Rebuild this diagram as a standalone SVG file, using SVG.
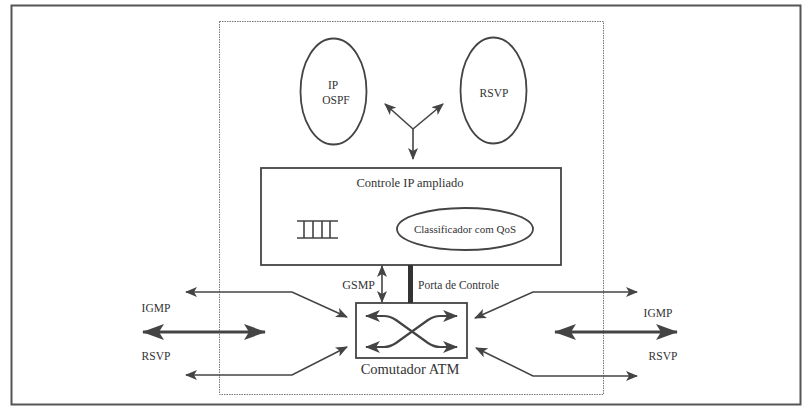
<svg xmlns="http://www.w3.org/2000/svg" width="804" height="408" viewBox="0 0 804 408">
<defs>
<style>
.t{font-family:"Liberation Serif","Times New Roman",serif;fill:#333;}
.ln{fill:none;stroke:#444;stroke-width:1.6;}
.sw{fill:none;stroke:#444;stroke-width:2.2;}
.thick{fill:none;stroke:#444;stroke-width:3.2;}
.box{fill:#fff;stroke:#444;stroke-width:1.8;}
</style>
<marker id="ah" markerUnits="userSpaceOnUse" markerWidth="12" markerHeight="10" refX="11" refY="5" orient="auto-start-reverse" viewBox="0 0 12 10">
<path d="M0,0 L12,5 L0,10 L3,5 Z" fill="#444"/>
</marker>
<marker id="ahm" markerUnits="userSpaceOnUse" markerWidth="15" markerHeight="12" refX="14" refY="6" orient="auto-start-reverse" viewBox="0 0 15 12">
<path d="M0,0 L15,6 L0,12 L4,6 Z" fill="#444"/>
</marker>
<marker id="ahb" markerUnits="userSpaceOnUse" markerWidth="22" markerHeight="16" refX="21" refY="8" orient="auto-start-reverse" viewBox="0 0 22 16">
<path d="M0,0 L22,8 L0,16 L5,8 Z" fill="#444"/>
</marker>
</defs>
<rect x="0" y="0" width="804" height="408" fill="#fff"/>
<rect id="frame" x="11.5" y="5.5" width="789" height="399" fill="none" stroke="#555" stroke-width="2"/>
<rect id="router" x="219.5" y="21.5" width="384" height="373" fill="none" stroke="#777" stroke-width="1" stroke-dasharray="1.5,1"/>

<g id="ip-ospf">
<ellipse cx="333.5" cy="91.5" rx="33" ry="53" class="box"/>
<text class="t" x="333" y="89" font-size="11.5" text-anchor="middle">IP</text>
<text class="t" x="336" y="104" font-size="11.5" text-anchor="middle">OSPF</text>
</g>
<g id="rsvp">
<ellipse cx="493.5" cy="90.5" rx="33" ry="53" class="box"/>
<text class="t" x="494" y="97" font-size="11.5" text-anchor="middle">RSVP</text>
</g>
<g id="controle">
<rect x="261" y="168" width="300" height="97" class="box"/>
<text class="t" x="410" y="187" font-size="12.5" text-anchor="middle">Controle IP ampliado</text>
<path d="M297,221 H338 M297,238 H338 M304,221 V238 M313,221 V238 M322,221 V238 M330,221 V238" stroke="#444" stroke-width="1.6" fill="none"/>
<ellipse cx="465" cy="229" rx="68" ry="21" class="box"/>
<text class="t" x="465" y="233" font-size="11" text-anchor="middle">Classificador com QoS</text>
</g>
<g id="switch">
<rect x="356" y="303" width="111" height="55" class="box"/>
<path class="sw" d="M366,316 H384 Q390,316 396,320 L428,343 Q434,347 440,347 H457" marker-start="url(#ahm)" marker-end="url(#ahm)"/>
<path class="sw" d="M366,347 H384 Q390,347 396,343 L428,320 Q434,316 440,316 H457" marker-start="url(#ahm)" marker-end="url(#ahm)"/>
<text class="t" x="410" y="374" font-size="14.5" text-anchor="middle">Comutador ATM</text>
</g>

<g id="connectors">
<path class="ln" d="M413,129 L385,104" marker-end="url(#ah)"/>
<path class="ln" d="M413,129 L443,104" marker-end="url(#ah)"/>
<path class="ln" d="M413,129 L413,159" marker-end="url(#ah)"/>
<path class="ln" d="M382,266 L382,302" marker-start="url(#ah)" marker-end="url(#ah)"/>
<rect x="408" y="265" width="5" height="38" fill="#333"/>
<path class="ln" d="M186,292 H292 L347,317" marker-start="url(#ah)" marker-end="url(#ah)"/>
<path class="ln" d="M186,375 H292 L347,347" marker-start="url(#ah)" marker-end="url(#ah)"/>
<path class="ln" d="M637,292 H533 L475,318" marker-start="url(#ah)" marker-end="url(#ah)"/>
<path class="ln" d="M637,376 H533 L476,348" marker-start="url(#ah)" marker-end="url(#ah)"/>
<path class="thick" d="M143,332 H265" marker-start="url(#ahb)" marker-end="url(#ahb)"/>
<path class="thick" d="M555,332 H677" marker-start="url(#ahb)" marker-end="url(#ahb)"/>
</g>

<g id="labels">
<text class="t" x="375" y="289" font-size="12" text-anchor="end">GSMP</text>
<text class="t" x="418" y="289" font-size="11.5">Porta de Controle</text>
<text class="t" x="156" y="312" font-size="11.5" text-anchor="middle">IGMP</text>
<text class="t" x="156" y="360" font-size="11.5" text-anchor="middle">RSVP</text>
<text class="t" x="658" y="317" font-size="11.5" text-anchor="middle">IGMP</text>
<text class="t" x="663" y="360" font-size="11.5" text-anchor="middle">RSVP</text>
</g>
</svg>
